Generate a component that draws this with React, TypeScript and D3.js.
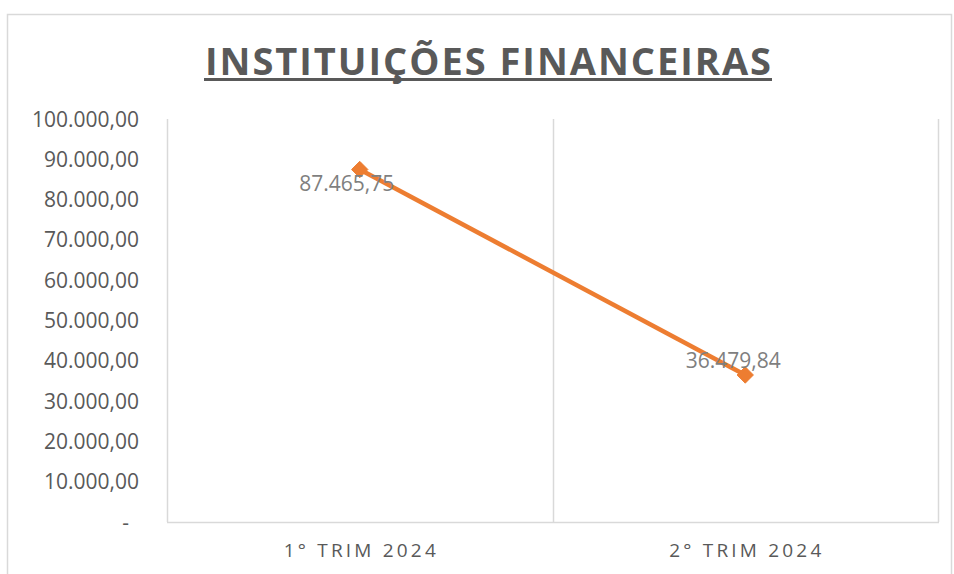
import React, { useRef, useEffect } from "react";
import * as d3 from "d3";

// chart data
const categories = ["1° TRIM 2024", "2° TRIM 2024"];
const values = [87465.75, 36479.84];
const yTicks = [0, 10000, 20000, 30000, 40000, 50000, 60000, 70000, 80000, 90000, 100000];
const chartTitle = "INSTITUIÇÕES FINANCEIRAS";

const App = () => {
  const svgRef = useRef<SVGSVGElement>(null);

  useEffect(() => {
    const width = 954;
    const height = 574;
    const plot = { left: 167, right: 938, top: 119, bottom: 522 };
    const grey = "#595959";
    const gridColor = "#d9d9d9";
    const orange = "#ED7D31";
    const font = "'Open Sans', sans-serif";

    const svg = d3.select(svgRef.current);
    svg.selectAll("*").remove();
    svg.attr("width", width).attr("height", height);

    svg.append("rect").attr("width", width).attr("height", height).attr("fill", "white");

    // chart border
    svg
      .append("rect")
      .attr("x", 7.5)
      .attr("y", 14.5)
      .attr("width", 944)
      .attr("height", 620)
      .attr("fill", "none")
      .attr("stroke", gridColor)
      .attr("stroke-width", 1.5);

    const x = d3.scaleBand().domain(categories).range([plot.left, plot.right]);
    const y = d3.scaleLinear().domain([0, 100000]).range([plot.bottom, plot.top]);

    // title
    svg
      .append("text")
      .attr("x", 488)
      .attr("y", 75)
      .attr("text-anchor", "middle")
      .attr("font-family", font)
      .attr("font-weight", "bold")
      .attr("font-size", 38)
      .attr("fill", grey)
      .attr("textLength", 566)
      .attr("lengthAdjust", "spacing")
      .text(chartTitle);
    svg
      .append("line")
      .attr("x1", 204)
      .attr("x2", 772)
      .attr("y1", 79.5)
      .attr("y2", 79.5)
      .attr("stroke", grey)
      .attr("stroke-width", 3);

    // vertical gridlines at category boundaries
    const bounds = [...categories.map((c) => x(c) as number), plot.right];
    svg
      .append("g")
      .selectAll("line")
      .data(bounds)
      .join("line")
      .attr("x1", (d) => Math.round(d) + 0.5)
      .attr("x2", (d) => Math.round(d) + 0.5)
      .attr("y1", plot.top)
      .attr("y2", plot.bottom)
      .attr("stroke", gridColor)
      .attr("stroke-width", 1.5);

    // x axis line
    svg
      .append("line")
      .attr("x1", plot.left)
      .attr("x2", plot.right + 1)
      .attr("y1", plot.bottom + 0.5)
      .attr("y2", plot.bottom + 0.5)
      .attr("stroke", gridColor)
      .attr("stroke-width", 1.5);

    // y tick labels
    const fmt = (v: number) =>
      v === 0
        ? "-"
        : d3.format(",.2f")(v).replace(/,/g, "#").replace(".", ",").replace(/#/g, ".");
    svg
      .append("g")
      .selectAll("text")
      .data(yTicks)
      .join("text")
      .attr("x", (d) => (d === 0 ? 129 : 139))
      .attr("y", (d) => y(d))
      .attr("dy", "0.36em")
      .attr("text-anchor", "end")
      .attr("font-family", font)
      .attr("font-size", 21)
      .attr("fill", grey)
      .text(fmt);

    // category labels
    svg
      .append("g")
      .selectAll("text")
      .data(categories)
      .join("text")
      .attr("x", (d) => (x(d) as number) + x.bandwidth() / 2)
      .attr("y", 557)
      .attr("text-anchor", "middle")
      .attr("font-family", font)
      .attr("font-size", 19)
      .attr("fill", grey)
      .attr("textLength", 152)
      .attr("lengthAdjust", "spacing")
      .text((d) => d);

    const pts = categories.map((c, i) => ({
      cx: (x(c) as number) + x.bandwidth() / 2,
      cy: y(values[i]),
      v: values[i],
    }));

    // line
    svg
      .append("path")
      .datum(pts)
      .attr("fill", "none")
      .attr("stroke", orange)
      .attr("stroke-width", 4.5)
      .attr("stroke-linejoin", "round")
      .attr("d", d3.line<any>().x((d) => d.cx).y((d) => d.cy));

    // markers
    svg
      .append("g")
      .selectAll("path")
      .data(pts)
      .join("path")
      .attr("transform", (d) => `translate(${d.cx},${d.cy})`)
      .attr("d", d3.symbol().type(d3.symbolDiamond2).size(170)())
      .attr("fill", orange)
      .attr("stroke", orange)
      .attr("stroke-width", 1);

    // data labels
    const labelOffsets = [
      { dx: -13, dy: 21 },
      { dx: -12, dy: -7 },
    ];
    svg
      .append("g")
      .selectAll("text")
      .data(pts)
      .join("text")
      .attr("x", (d, i) => d.cx + labelOffsets[i].dx)
      .attr("y", (d, i) => d.cy + labelOffsets[i].dy)
      .attr("text-anchor", "middle")
      .attr("font-family", font)
      .attr("font-size", 21)
      .attr("fill", "#7f7f7f")
      .text((d) => fmt(d.v));
  }, []);

  return <svg ref={svgRef} style={{ position: "absolute", left: 0, top: 0 }}></svg>;
};

export default App;
